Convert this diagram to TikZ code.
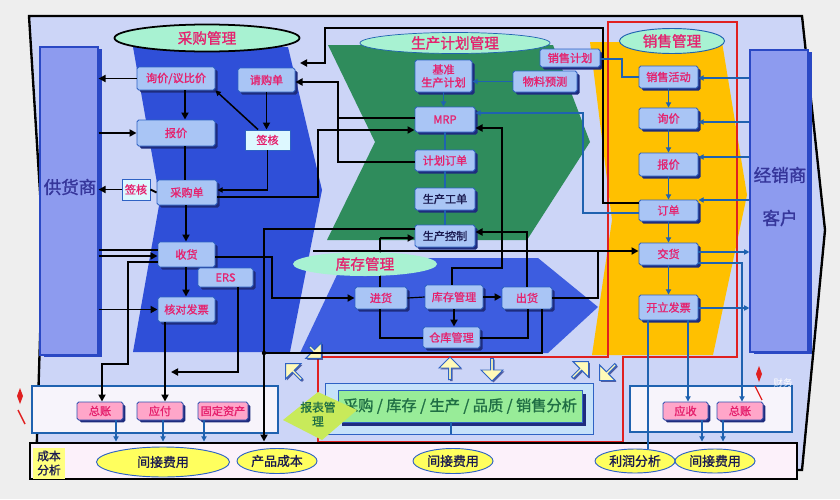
\documentclass[tikz,border=0pt]{standalone}
\usepackage{fontspec}
\newfontfamily\cjk[FakeBold=1.3]{Noto Sans CJK SC}
\newfontfamily\cjkl{Noto Sans CJK SC}
\usetikzlibrary{shapes.geometric,shapes.arrows,arrows.meta,shadows,calc}
\definecolor{bgout}{HTML}{EEEEEE}
\definecolor{framefill}{HTML}{CCD5F7}
\definecolor{bandblue}{HTML}{2F4FD8}
\definecolor{bandblue2}{HTML}{3D5DE0}
\definecolor{bandgreen}{HTML}{2F8C5C}
\definecolor{bandyellow}{HTML}{FFC000}
\definecolor{boxfill}{HTML}{A9C5F5}
\definecolor{boxline}{HTML}{2E62C4}
\definecolor{shad}{HTML}{1E2C7E}
\definecolor{txtred}{HTML}{E5226E}
\definecolor{ellg}{HTML}{A8F2D2}
\definecolor{sidefill}{HTML}{8D9BEF}
\definecolor{sideline}{HTML}{2A48C4}
\definecolor{sidetext}{HTML}{35359A}
\definecolor{thinblue}{HTML}{1F62B0}
\definecolor{signfill}{HTML}{DDF8FF}
\definecolor{pinkfill}{HTML}{FFA6C9}
\definecolor{pinkline}{HTML}{3050B0}
\definecolor{finfill}{HTML}{F7F4FB}
\definecolor{stripfill}{HTML}{FCF1FA}
\definecolor{yellfill}{HTML}{FFFF5E}
\definecolor{anaout}{HTML}{C6E2FA}
\definecolor{anagreen}{HTML}{98EC98}
\definecolor{anatext}{HTML}{1F6E44}
\definecolor{lime}{HTML}{C8EA5A}
\definecolor{arrfill}{HTML}{FFFAB8}
\definecolor{darknavy}{HTML}{1A1A50}
\definecolor{redline}{HTML}{E02020}
\tikzset{
  bxbase/.style={draw=boxline,fill=boxfill,line width=0.8pt,rounded corners=1.5pt,text=txtred,
    font=\cjk\fontsize{9.5}{11}\selectfont,inner sep=0pt,align=center},
  box/.style={bxbase,drop shadow={shadow xshift=2.2pt,shadow yshift=-2.2pt,fill=shad,opacity=1}},
  darkbox/.style={box,text=darknavy},
  sign/.style={bxbase,fill=signfill,rounded corners=0pt},
  pink/.style={bxbase,fill=pinkfill,draw=pinkline,drop shadow={shadow xshift=2pt,shadow yshift=-2pt,fill=shad,opacity=1}},
  sidebx/.style={draw=sideline,fill=sidefill,line width=1pt,inner sep=0pt,
    drop shadow={shadow xshift=3pt,shadow yshift=-2pt,fill=sideline,opacity=1}},
  sidelab/.style={text=sidetext,font=\cjk\fontsize{15}{17}\selectfont,inner sep=0pt},
  finbx/.style={draw=thinblue,fill=finfill,line width=0.9pt,inner sep=0pt},
  stripbx/.style={draw=black,fill=stripfill,line width=2.5pt,inner sep=0pt},
  anaoutbx/.style={draw=boxline,fill=anaout,line width=0.8pt,inner sep=0pt},
  anainbx/.style={draw=boxline,fill=anagreen,line width=0.8pt,inner sep=0pt,text=anatext,
    font=\cjk\fontsize{13}{15}\selectfont,drop shadow={shadow xshift=3pt,shadow yshift=-3pt,fill=shad,opacity=1}},
  ellg/.style={ellipse,fill=ellg,inner sep=0pt,text=txtred,font=\cjk\fontsize{12.5}{14}\selectfont},
  yell/.style={ellipse,fill=yellfill,draw=boxline,line width=0.8pt,inner sep=0pt,text=darknavy,
    font=\cjk\fontsize{11}{13}\selectfont},
  blk/.style={draw=black,line width=1.6pt,line join=miter},
  blu/.style={draw=thinblue,line width=0.9pt},
  tip/.style={-{Triangle[length=6pt,width=6pt]}},
  stip/.style={-{Triangle[length=4.5pt,width=4.5pt]}},
  blkarr/.style={single arrow,draw=boxline,fill=arrfill,line width=0.8pt,minimum height=0.68cm,
    minimum width=0.66cm,single arrow head extend=3pt,single arrow head indent=0pt,inner sep=0pt,
    drop shadow={shadow xshift=1.2pt,shadow yshift=-1.2pt,fill=shad,opacity=0.7}}
}
\newcommand\bx[7][box]{\node[#1,minimum width={(#4-#2)*0.03cm},minimum height={(#5-#3)*0.03cm}] (#6) at ({(#2+#4)/2},{(#3+#5)/2}) {#7};}
\begin{document}
\begin{tikzpicture}[x=0.03cm,y=-0.03cm]
\useasboundingbox (0,0) rectangle (840,499);
\fill[bgout] (0,0) rectangle (840,499);
% frame
\draw[line width=2pt,fill=framefill] (29,16) -- (802,16) -- (825,230) -- (802,470) -- (36,470) -- (43,240) -- cycle;
% bands
\fill[bandblue] (133,47) -- (160,200) -- (133,352) -- (290,352) -- (322,190) -- (288,47) -- cycle;
\fill[bandblue2] (300,353) -- (345,258) -- (538,258) -- (598,307) -- (548,353) -- cycle;
\fill[bandgreen] (328,45) -- (553,45) -- (590,142) -- (527,240) -- (327,240) -- (375,142) -- cycle;
\fill[bandyellow] (590,42) -- (722,42) -- (747,195) -- (713,355) -- (592,355) -- (612,220) -- cycle;
% red outline
\draw[redline,line width=2.4pt] (608,22) -- (737,22) -- (737,357) -- (623,357) -- (623,442) -- (318,442) -- (318,357) -- (608,357) -- cycle;
% side boxes
\bx[sidebx]{40}{47}{98}{355}{gys}{}
\bx[sidebx]{750}{50}{808}{352}{kh}{}
\node[sidelab] (gyst) at (70,187) {供货商};
\node[sidelab] (kht1) at (780,175) {经销商};
\node[sidelab] (kht2) at (780,218) {客户};
% finance containers and strip
\bx[finbx]{32}{386}{278}{433}{finL}{}
\bx[finbx]{630}{386}{792}{432}{finR}{}
\bx[stripbx]{30}{443}{797}{479}{strip}{}
\node[fill=yellfill!80,minimum width=0.96cm,minimum height=0.93cm,inner sep=0pt,align=center,
  text=darknavy,font=\cjk\fontsize{10}{12}\selectfont] (cbfx) at (49,463) {成本\\分析};
% analysis
\bx[anaoutbx]{325}{383}{593}{434}{anao}{}
\bx[anainbx]{338}{390}{582}{422}{ana}{采购 / 库存 / 生产 / 品质 / 销售分析}
\fill[lime] (283,420) -- (318,392) -- (357,410) -- (322,440) -- cycle;
\node[text=anatext,font=\cjk\fontsize{10}{12}\selectfont,align=center,inner sep=0pt] (bbgl) at (318,414) {报表管\\理};
% block arrows
\node[blkarr,rotate=135] (ba1) at (294,372) {};
\node[blkarr,rotate=-45,minimum height=0.5cm] (ba2) at (315,352) {};
\node[blkarr,rotate=90] (ba3) at (450,369) {};
\node[blkarr,rotate=-90] (ba4) at (492,369) {};
\node[blkarr,rotate=45] (ba5) at (580,370) {};
\node[blkarr,rotate=-135] (ba6) at (608,372) {};
% ellipses
\node[ellg,draw=black,line width=1.5pt,minimum width=5.55cm,minimum height=0.81cm] (cg) at (207,38) {采购管理};
\node[ellg,draw=thinblue,line width=0.6pt,minimum width=5.7cm,minimum height=0.63cm] (scjh) at (455,43) {生产计划管理};
\node[ellg,draw=thinblue,line width=0.8pt,minimum width=3.15cm,minimum height=0.75cm] (xsgl) at (672,41) {销售管理};
% purchase boxes
\bx{137}{67}{215}{90}{xj}{询价/议比价}
\bx{238}{68}{295}{92}{qg}{请购单}
\bx{137}{120}{215}{146}{bj}{报价}
\bx[sign]{245}{130}{290}{150}{qh}{签核}
\bx{157}{180}{217}{205}{cgd}{采购单}
\bx[sign]{122}{179}{150}{200}{qh2}{签核}
\bx{158}{242}{215}{267}{sh}{收货}
\bx{198}{268}{253}{287}{ers}{ERS}
\bx{158}{297}{215}{322}{hd}{核对发票}
% production boxes
\bx{415}{60}{472}{92}{jz}{基准\\生产计划}
\bx{540}{49}{600}{67}{xsjh}{销售计划}
\bx{513}{71}{577}{92}{wl}{物料预测}
\bx{415}{107}{475}{132}{mrp}{MRP}
\bx{415}{150}{475}{171}{jhdd}{计划订单}
\bx[darkbox]{415}{188}{475}{210}{scgd}{生产工单}
\bx[darkbox]{415}{225}{475}{247}{sckz}{生产控制}
% inventory boxes
\bx{355}{287}{407}{309}{jh}{进货}
\bx{425}{285}{483}{309}{kcgl}{库存管理}
\bx{502}{287}{552}{309}{ch}{出货}
\bx{423}{327}{480}{348}{ckgl}{仓库管理}
% sales boxes
\bx{639}{66}{698}{88}{xshd}{销售活动}
\bx{639}{108}{698}{129}{xxj}{询价}
\bx{639}{153}{698}{176}{xbj}{报价}
\bx{639}{200}{698}{221}{dd}{订单}
\bx{639}{243}{698}{265}{jhuo}{交货}
\bx{639}{295}{698}{320}{kl}{开立发票}
% finance boxes
\bx[pink]{77}{402}{123}{420}{zz1}{总账}
\bx[pink]{137}{402}{183}{420}{yf}{应付}
\bx[pink]{198}{402}{248}{420}{gd}{固定资产}
\bx[pink]{663}{402}{708}{420}{ys}{应收}
\bx[pink]{717}{402}{763}{420}{zz2}{总账}
% bottom ellipses
\node[yell,minimum width=3.99cm,minimum height=0.9cm] (jf1) at (163,462) {间接费用};
\node[yell,minimum width=2.4cm,minimum height=0.75cm] (cpcb) at (277,461) {产品成本};
\node[yell,minimum width=2.4cm,minimum height=0.75cm] (jf2) at (453,461) {间接费用};
\node[yell,minimum width=2.4cm,minimum height=0.72cm] (lrfx) at (635,461) {利润分析};
\node[yell,minimum width=2.4cm,minimum height=0.72cm] (jf3) at (715,461) {间接费用};
% ---------- connectors: purchase
\draw[blk,tip] (xj.west) -- (gys.east |- xj.west);
\draw[blk,tip] (gys.east |- bj.west) -- (bj.west);
\draw[blk,tip] (xj.south -| 185,0) -- (bj.north -| 185,0);
\draw[blk,line width=1.3pt,stip] (qh.north -| 258,0) -- (xj.south east);
\draw[blk,tip] (qg.south) -- (qg.south |- qh.north);
\draw[blk,stip] (qh.south) -- (qh.south |- 0,190) -- (cgd.east |- 0,190);
\draw[blk] (bj.south -| 185,0) -- (cgd.north -| 185,0);
\draw[blk] (cgd.west) -- (qh2.east);
\draw[blk,tip] (qh2.west) -- (gys.east |- qh2.west);
\draw[blk,tip] (cgd.south -| 186,0) -- (sh.north -| 186,0);
\draw[blk,tip] (sh.south -| 186,0) -- (hd.north -| 186,0);
\draw[blk] (gys.east |- 0,250) -- (sh.west |- 0,250);
\draw[blk,tip] (gys.east |- 0,256) -- (sh.west |- 0,256);
\draw[blk,tip] (gys.east |- hd.west) -- (hd.west);
\draw[blk,tip] (sh.west |- 0,262) -- (128,262) -- (128,364) -- (102,364) -- (zz1.north -| 102,0);
\draw[blk,tip] (hd.south -| 165,0) -- (yf.north -| 165,0);
\coordinate (ersend) at (171,372);
\draw[blk,tip] (ers.south -| 238,0) -- (238,372) -- (ersend);
\draw[blk,tip] (sh.east |- 0,257) -- (272,257) -- (272,298) -- (jh.west |- 0,298);
\draw[blk,tip] (cgd.east |- 0,197) -- (318,197) -- (318,130) -- (mrp.west |- 0,130);
\draw[blk,tip] (jhdd.west |- 0,162) -- (338,162) -- (338,82) -- (qg.east |- 0,82);
\draw[blk] (mrp.west |- 0,118) -- (338,118);
\coordinate (topend) at (300,63);
\draw[blk,tip] (dd.west |- 0,203) -- (603,203) -- (603,28) -- (325,28) -- (325,63) -- (topend);
% production / inventory
\draw[blk,tip] (sckz.west |- 0,229) -- (264,229) -- (strip.north -| 264,0);
\draw[blk] (ch.south -| 542,0) -- (542,353) -- (264,353);
\fill (264,353) circle[radius=2.2];
\draw[blk] (313,251) -- (598,251);
\draw[blk,tip] (ch.east |- 0,298) -- (598,298) -- (598,251) -- (jhuo.west |- 0,251);
\draw[blk,line width=1.2pt] (jh.north -| 380,0) -- (380,238);
\draw[blk,tip] (380,238) -- (sckz.west |- 0,238);
\draw[black,line width=1pt] (jh.east) -- (kcgl.west);
\draw[blk,tip] (kcgl.east |- 0,297) -- (ch.west |- 0,297);
\draw[blk,tip] (kcgl.south -| 454,0) -- (ckgl.north -| 454,0);
\draw[blk] (jh.south -| 380,0) -- (380,338) -- (ckgl.west |- 0,338);
\draw[blk] (ckgl.east |- 0,338) -- (528,338) -- (ch.south -| 528,0);
\draw[blk,tip] (kcgl.north -| 452,0) -- (452,268) -- (502,268) -- (502,128) -- (mrp.east |- 0,128);
\draw[blk,tip] (ch.north -| 527,0) -- (527,232) -- (sckz.east |- 0,232);
\node[ellg,minimum width=4.32cm,minimum height=0.72cm] (kcglell) at (365,264) {库存管理};
\draw[blu,stip] (wl.west) -- (jz.east |- wl.west);
\draw[blu,stip] (jz.south) -- (jz.south |- mrp.north);
\draw[blu] (mrp.south) -- (mrp.south |- jhdd.north);
\draw[blu] (jhdd.south) -- (jhdd.south |- scgd.north);
\draw[blu] (scgd.south) -- (scgd.south |- sckz.north);
\draw[blu,stip] (dd.west |- 0,213) -- (583,213) -- (583,113) -- (mrp.east |- 0,113);
\draw[blu] (xsjh.east |- 0,59) -- (622,59) -- (622,77) -- (xshd.west |- 0,77);
% sales
\draw[blu,stip] (kh.west |- 0,78) -- (xshd.east |- 0,78);
\draw[blu,stip] (kh.west |- 0,122) -- (xxj.east |- 0,122);
\draw[blu,stip] (kh.west |- 0,157) -- (xbj.east |- 0,157);
\draw[blu,stip] (kh.west |- 0,200) -- (dd.east |- 0,200);
\draw[blu,stip] (xshd.south) -- (xxj.north);
\draw[blu,stip] (xxj.south) -- (xbj.north);
\draw[blu,stip] (xbj.south) -- (dd.north);
\draw[blu,stip] (dd.south) -- (jhuo.north);
\draw[blu,stip] (jhuo.south) -- (kl.north);
\draw[blu,stip] (jhuo.east |- 0,252) -- (kh.west |- 0,252);
\draw[blu,stip] (jhuo.east |- 0,263) -- (742,263) -- (zz2.north -| 742,0);
\draw[blu,stip] (kl.east |- 0,308) -- (kh.west |- 0,308);
\draw[blu,stip] (kl.south -| 688,0) -- (ys.north -| 688,0);
\draw[blu] (kl.south -| 648,0) -- (lrfx.north -| 648,0);
\draw[blu,stip] (ys.south -| 702,0) -- (strip.north -| 702,0);
\draw[blu,stip] (zz2.south -| 723,0) -- (strip.north -| 723,0);
\draw[blu,stip] (zz1.south -| 116,0) -- (strip.north -| 116,0);
\draw[blu,stip] (yf.south -| 163,0) -- (strip.north -| 163,0);
\draw[blu,stip] (gd.south -| 204,0) -- (strip.north -| 204,0);
\draw[blu] (ana.south -| 451,0) -- (anao.south -| 451,0);
% slide markers
\fill[redline] (20,388) -- (23,396) -- (20,404) -- (17,396) -- cycle;
\draw[redline,line width=1.2pt] (18,410) -- (25,424);
\fill[redline] (759,366) -- (762,374) -- (759,382) -- (756,374) -- cycle;
\draw[redline,line width=1pt] (755,386) -- (762,400);
\node[text=white,font=\cjkl\fontsize{8}{9}\selectfont,inner sep=0pt] (cw) at (783,383) {财务};
\end{tikzpicture}
\end{document}
